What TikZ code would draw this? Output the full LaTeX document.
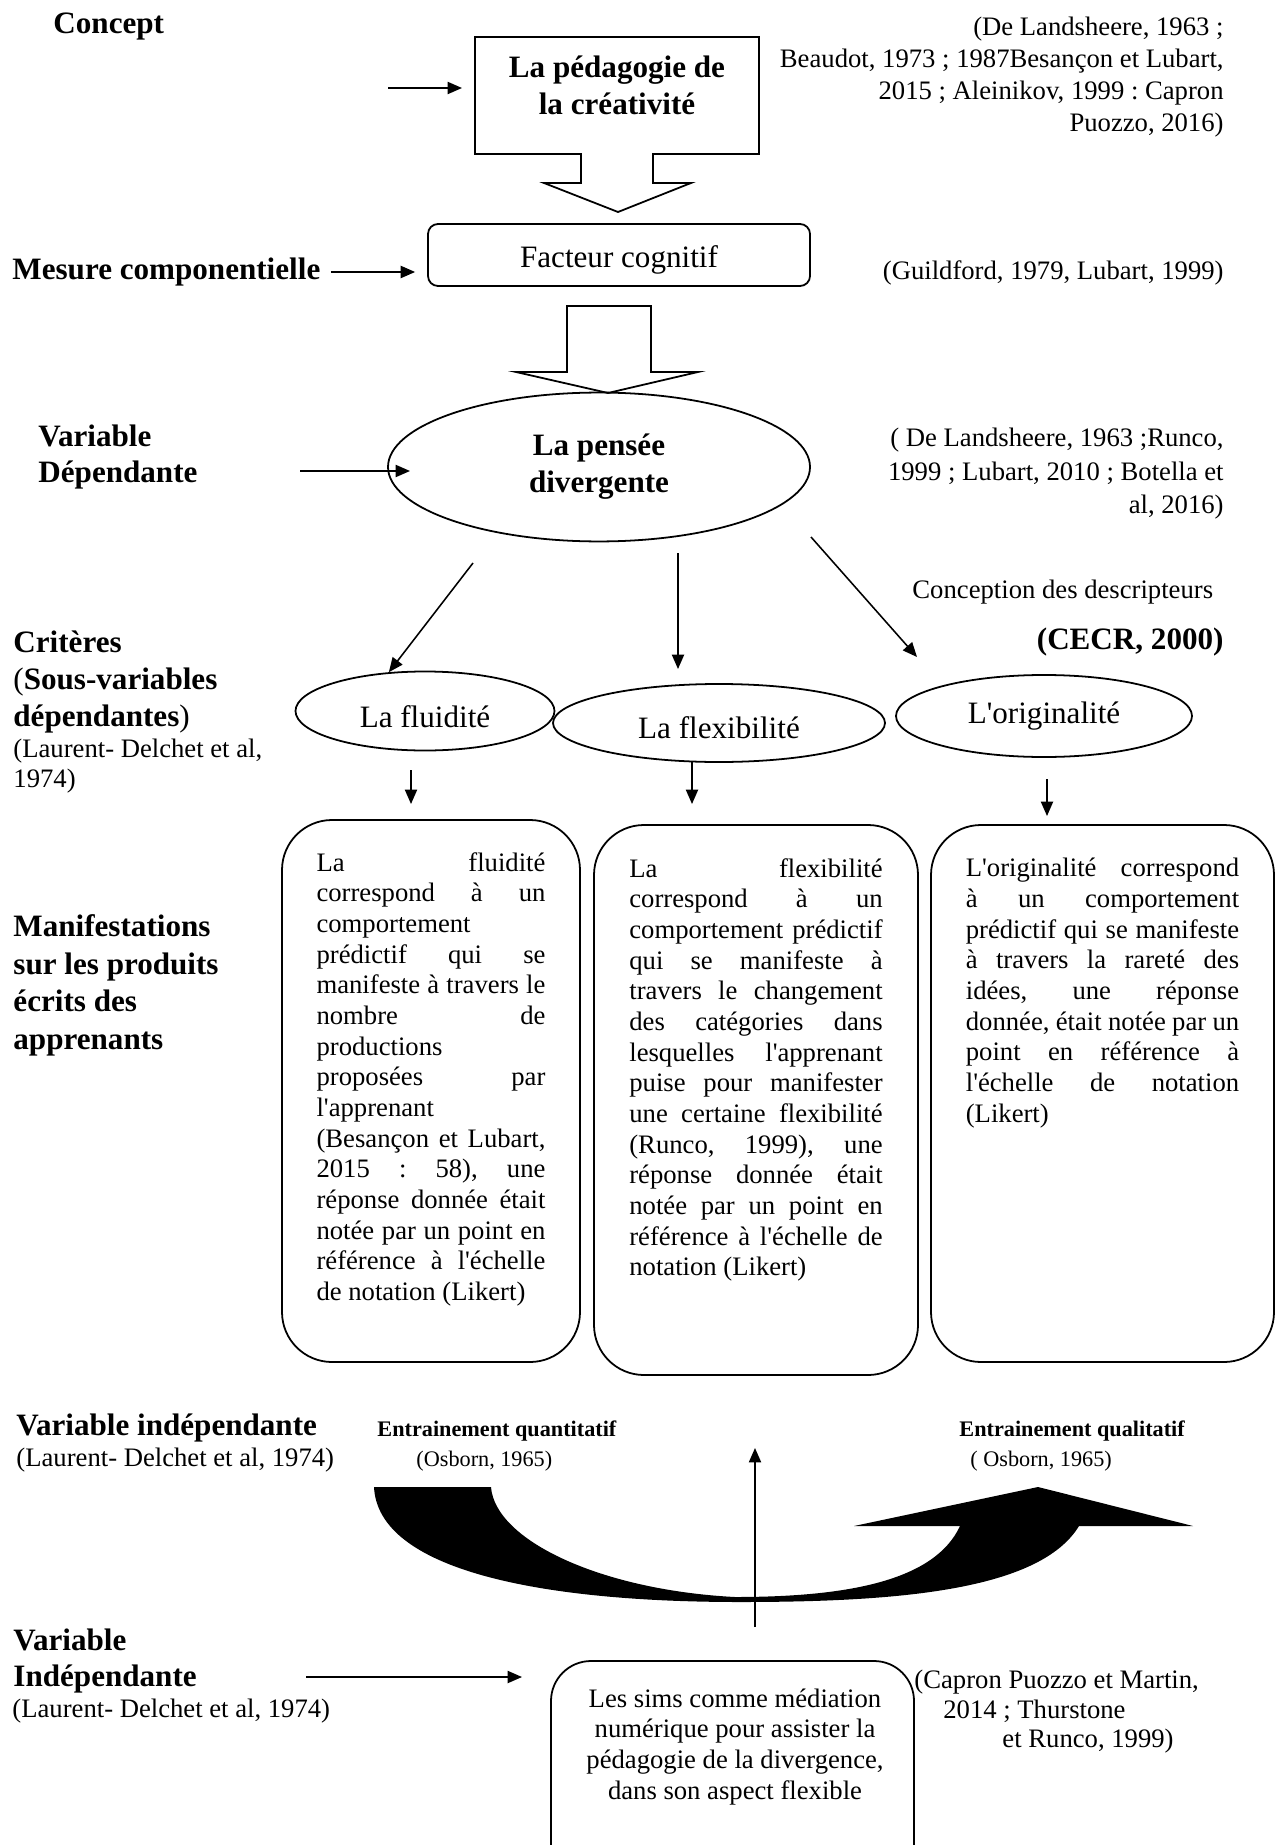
\documentclass[tikz,border=0pt]{standalone}
\usepackage{fontspec}
\setmainfont{Liberation Serif}
\usetikzlibrary{shapes.geometric,arrows.meta}
\newcommand{\jline}[1]{{\spaceskip=0pt\relax\xspaceskip=0pt\relax\makebox[\hsize][s]{#1}}}
\newcommand{\apostr}{\textquotesingle}
\frenchspacing

\begin{document}
\begin{tikzpicture}
        [x=0.45pt, y=-0.45pt,
        lab/.style={font=\fontsize{14}{16.6}\selectfont\bfseries, align=left, inner sep=0pt},
        reftxt/.style={font=\fontsize{12}{14.3}\selectfont, inner sep=0pt},
        entr/.style={font=\fontsize{10}{12}\selectfont, inner sep=0pt},
        oval/.style={ellipse, draw, line width=0.8pt, inner sep=0pt, font=\fontsize{14}{16.6}\selectfont},
        card/.style={draw, rounded corners=22.5pt, line width=0.8pt},
        body/.style={font=\fontsize{12}{13.8}\selectfont, align=justify, inner sep=0pt, anchor=north},
        arr/.style={-{Triangle[length=6.5pt,width=5.5pt]}, line width=0.7pt},
        hollow/.style={draw, line width=0.8pt}]

        \useasboundingbox (0,0) rectangle (1276,1845);
        \clip (0,0) rectangle (1276,1845);

        % Concept
        \node[lab, anchor=west] (conc) at (53,27) {Concept};
        \node[reftxt, align=right, anchor=north east] (refa) at (1224,17) {(De Landsheere, 1963 ;\\Beaudot, 1973 ; 1987Besançon et Lubart,\\2015 ; Aleinikov, 1999 : Capron\\Puozzo, 2016)};
        \draw[hollow] (475,37) -- (759,37) -- (759,154) -- (653,154) -- (653,183) -- (691,183) -- (618,212)
            -- (544,183) -- (581,183) -- (581,154) -- (475,154) -- cycle;
        \node[lab, align=center] (peda) at (617,85) {La pédagogie de\\la créativité};
        \coordinate (pa) at (388,88);
        \coordinate (pb) at (462,88);
        \draw[arr] (pa) -- (pb);

        % Mesure componentielle
        \node[lab, anchor=west] (mes) at (12,272) {Mesure componentielle};
        \node[draw, rounded corners=4.5pt, line width=0.8pt, minimum width=171.9pt, minimum height=27.9pt,
            font=\fontsize{14}{16.6}\selectfont, text height=11pt, text depth=0pt] (fact) at (619,255) {Facteur cognitif};
        \draw[arr, shorten <=4.5pt, shorten >=5.4pt] (mes.east) -- (mes.east -| fact.west);
        \node[reftxt, anchor=east] (refb) at (1224,273) {(Guildford, 1979, Lubart, 1999)};
        \draw[hollow] (567,306) -- (651,306) -- (651,372) -- (698,372) -- (608,393) -- (516,372) -- (567,372) -- cycle;

        % Variable dependante
        \node[lab, anchor=north west] (vd) at (38,424) {Variable\\Dépendante};
        \node[oval, font=\fontsize{14}{16.6}\selectfont\bfseries, align=center, minimum width=189.9pt,
            minimum height=67pt] (pens) at (599,467) {La pensée\\divergente};
        \coordinate (va) at (300,471);
        \coordinate (vb) at (410,471);
        \draw[arr] (va) -- (vb);
        \node[reftxt, align=right, anchor=north east, font=\fontsize{12}{15}\selectfont] (refc) at (1224,428)
            {( De Landsheere, 1963 ;Runco,\\1999 ; Lubart, 2010 ; Botella et\\al, 2016)};

        % Criteres
        \node[reftxt, anchor=west] (desc) at (912,592) {Conception des descripteurs};
        \node[lab, anchor=east] (cecr) at (1224,642) {(CECR, 2000)};
        \node[lab, anchor=north west, font=\fontsize{14}{16.8}\selectfont\bfseries] (crit) at (13,630)
            {Critères\\{\mdseries(}Sous-variables\\dépendantes{\mdseries)}};
        \node[reftxt, anchor=north west, align=left, font=\fontsize{12}{13.5}\selectfont] (critr) at (13,739)
            {(Laurent- Delchet et al,\\1974)};

        \node[oval, minimum width=116.55pt, minimum height=35.55pt, text height=15pt, text depth=0pt] (flu) at (425,711) {La fluidité};
        \node[oval, minimum width=149.4pt, minimum height=35.1pt, text height=14pt, text depth=0pt] (flex) at (719,723) {La flexibilité};
        \node[oval, minimum width=133.2pt, minimum height=36.9pt] (orig) at (1044,716) {L\apostr originalité};

        \coordinate (c1) at (473,563);
        \coordinate (c3) at (678,553);
        \coordinate (c4) at (678,669);
        \coordinate (c5) at (811,537);
        \coordinate (c6) at (917,657);
        \draw[arr] (c1) -- (flu.133);
        \draw[arr] (c3) -- (c4);
        \draw[arr] (c5) -- (c6);

        \coordinate (d1) at (411,770);
        \coordinate (d2) at (411,804);
        \coordinate (d3) at (692,762);
        \coordinate (d4) at (692,804);
        \coordinate (d5) at (1047,779);
        \coordinate (d6) at (1047,816);
        \draw[arr] (d1) -- (d2);
        \draw[arr] (d3) -- (d4);
        \draw[arr] (d5) -- (d6);

        % Manifestations
        \node[lab, anchor=north west, font=\fontsize{14}{17}\selectfont\bfseries] (manif) at (13,914)
            {Manifestations\\sur les produits\\écrits des\\apprenants};

        \node[card, minimum width=134.1pt, minimum height=243.9pt] (boxa) at (431,1091) {};
        \node[body, text width=103pt] (txta) at (431,852) {\jline{La fluidité}\\
            \jline{correspond à un}\\
            comportement\\
            \jline{prédictif qui se}\\
            \jline{manifeste à travers le}\\
            \jline{nombre de}\\
            productions\\
            \jline{proposées par}\\
            l\apostr apprenant\\
            \jline{(Besançon et Lubart,}\\
            \jline{2015 : 58), une}\\
            \jline{réponse donnée était}\\
            \jline{notée par un point en}\\
            \jline{référence à l\apostr échelle}\\
            de notation (Likert)};

        \node[card, minimum width=145.8pt, minimum height=247.5pt] (boxb) at (756,1100) {};
        \node[body, text width=114pt] (txtb) at (756,858) {\jline{La flexibilité}\\
            \jline{correspond à un}\\
            \jline{comportement prédictif}\\
            \jline{qui se manifeste à}\\
            \jline{travers le changement}\\
            \jline{des catégories dans}\\
            \jline{lesquelles l\apostr apprenant}\\
            \jline{puise pour manifester}\\
            \jline{une certaine flexibilité}\\
            \jline{(Runco, 1999), une}\\
            \jline{réponse donnée était}\\
            \jline{notée par un point en}\\
            \jline{référence à l\apostr échelle de}\\
            notation (Likert)};

        \node[card, minimum width=154.35pt, minimum height=241.65pt] (boxc) at (1102.5,1093.5) {};
        \node[body, text width=123pt] (txtc) at (1102.5,858) {\jline{L\apostr originalité correspond}\\
            \jline{à un comportement}\\
            \jline{prédictif qui se manifeste}\\
            \jline{à travers la rareté des}\\
            \jline{idées, une réponse}\\
            \jline{donnée, était notée par un}\\
            \jline{point en référence à}\\
            \jline{l\apostr échelle de notation}\\
            (Likert)};

        % Variable independante
        \node[lab, anchor=west] (vi) at (16,1428) {Variable indépendante};
        \node[reftxt, anchor=west] (vir) at (16,1460) {(Laurent- Delchet et al, 1974)};
        \node[entr, font=\fontsize{10}{12}\selectfont\bfseries, anchor=west] (quant) at (377,1431) {Entrainement quantitatif};
        \node[entr, anchor=west] (quantr) at (416,1461) {(Osborn, 1965)};
        \node[entr, font=\fontsize{10}{12}\selectfont\bfseries, anchor=west] (qual) at (959,1431) {Entrainement qualitatif};
        \node[entr, anchor=west] (qualr) at (970,1461) {( Osborn, 1965)};

        \fill (374,1487) -- (491,1487) .. controls (495,1540) and (600,1590) .. (735,1597)
            .. controls (850,1597) and (935,1580) .. (960,1526) -- (854,1526) -- (1038,1487) -- (1193,1526)
            -- (1079,1526) .. controls (1040,1590) and (900,1602) .. (740,1602)
            .. controls (540,1602) and (378,1570) .. (374,1487) -- cycle;
        \coordinate (ua) at (755,1627);
        \coordinate (ub) at (755,1448);
        \draw[arr] (ua) -- (ub);

        \node[lab, anchor=north west, font=\fontsize{14}{16.2}\selectfont\bfseries] (vi2) at (13,1628) {Variable\\Indépendante};
        \node[reftxt, anchor=west] (vi2r) at (12,1711) {(Laurent- Delchet et al, 1974)};
        \coordinate (ba) at (306,1677);
        \coordinate (bb) at (522,1677);
        \draw[arr] (ba) -- (bb);
        \node[card, rounded corners=18pt, minimum width=163.35pt, minimum height=107.55pt] (sims) at (732.5,1780.5) {};
        \node[body, align=center] (simst) at (735,1688) {Les sims comme médiation\\numérique pour assister la\\pédagogie de la divergence,\\dans son aspect flexible};
        \node[reftxt, anchor=north west, align=left, font=\fontsize{12}{13.2}\selectfont] (refd) at (914,1670)
            {(Capron Puozzo et Martin,\\\hspace*{13pt}2014 ; Thurstone\\\hspace*{39.6pt}et Runco, 1999)};

\end{tikzpicture}
\end{document}
